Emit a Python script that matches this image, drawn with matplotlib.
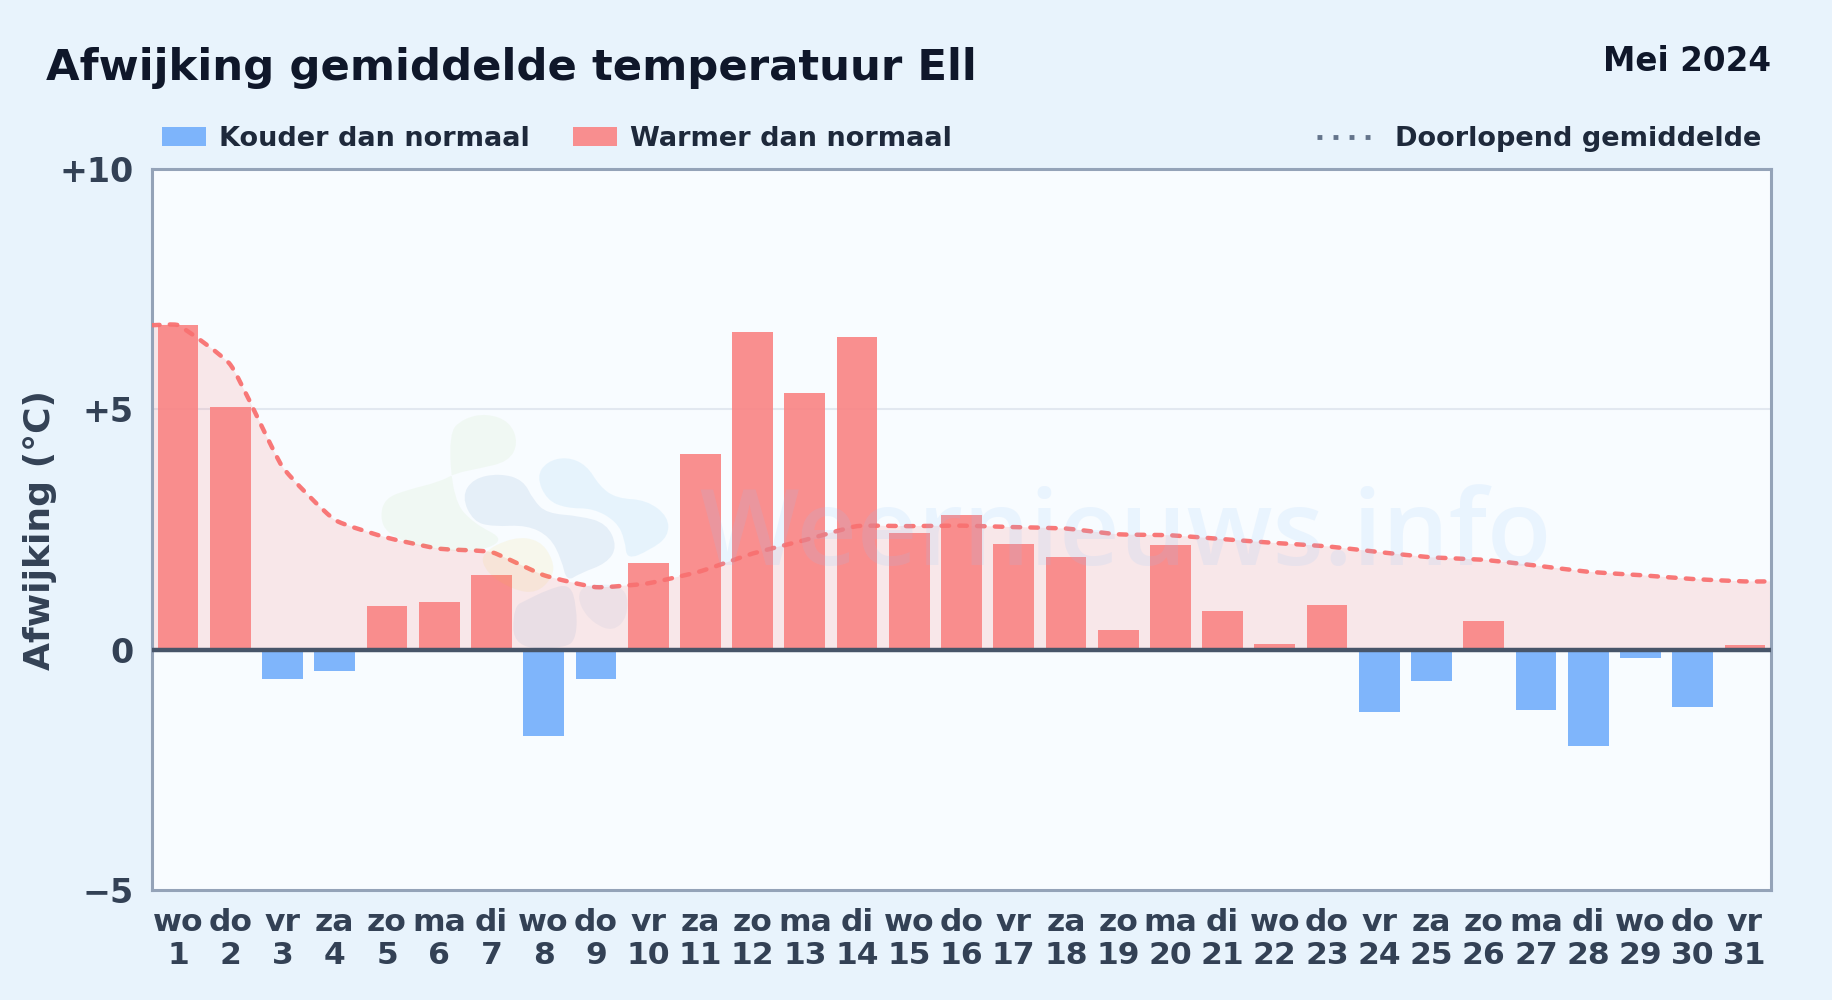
"""Afwijking gemiddelde temperatuur Ell, mei 2024."""
import matplotlib
matplotlib.use("Agg")
import matplotlib.pyplot as plt
import numpy as np
from matplotlib.lines import Line2D
from matplotlib.patches import PathPatch, Rectangle
from matplotlib.path import Path

WEEKDAYS = ["wo", "do", "vr", "za", "zo", "ma", "di"] * 4 + ["wo", "do", "vr"]
DAYS = list(range(1, 32))
ANOMALY = [6.75, 5.05, -0.6, -0.45, 0.9, 1.0, 1.55, -1.8, -0.6, 1.8, 4.08,
           6.6, 5.35, 6.5, 2.43, 2.8, 2.2, 1.92, 0.4, 2.18, 0.8, 0.12, 0.92,
           -1.3, -0.65, 0.6, -1.25, -2.0, -0.17, -1.2, 0.1]
RUNNING_MEAN = [6.75, 5.93, 3.8, 2.7, 2.33, 2.1, 2.03, 1.55, 1.3, 1.38, 1.63,
                2.0, 2.28, 2.57, 2.57, 2.58, 2.55, 2.52, 2.4, 2.38, 2.3, 2.22,
                2.15, 2.03, 1.92, 1.87, 1.75, 1.62, 1.55, 1.47, 1.42]
YTICKS = [-5, 0, 5, 10]
YTICK_LABELS = ["\u22125", "0", "+5", "+10"]

WARM = "#fa8383"
COLD = "#72aefb"
LINE = "#f87171"
INK = "#0f172a"
SLATE = "#334155"
W, H = 1832, 1000
X0, X1, Y0, Y1 = 152, 1771, 169, 890

# watermark logo outlines, in pixels of the 3x crop of the logo area
LOGO_BLOBS = [
    ("#7fc241", 0.06, [(325, 130), (370, 85), (440, 70), (510, 95), (535, 160), (505, 215),
                       (420, 235), (345, 250), (300, 275), (200, 300), (135, 325), (120, 380),
                       (140, 430), (230, 470), (400, 490), (500, 450), (400, 400), (340, 330)]),
    ("#f5c518", 0.08, [(420, 490), (520, 440), (600, 450), (640, 510), (640, 560),
                       (590, 610), (520, 600), (440, 550)]),
    ("#2f6db5", 0.09, [(365, 320), (400, 265), (480, 250), (550, 270), (580, 330), (620, 370),
                       (720, 378), (800, 400), (832, 470), (800, 520), (720, 550), (680, 575),
                       (665, 510), (630, 440), (560, 405), (460, 410), (400, 395)]),
    ("#38a3e8", 0.09, [(590, 260), (620, 215), (680, 200), (740, 225), (780, 290), (830, 325),
                       (920, 330), (985, 380), (985, 440), (930, 480), (860, 510), (855, 450),
                       (830, 395), (760, 355), (680, 355), (620, 330)]),
    ("#2f6db5", 0.07, [(520, 650), (560, 630), (620, 600), (690, 580), (710, 650), (710, 740),
                       (680, 775), (520, 775)]),
    ("#2f6db5", 0.05, [(715, 600), (760, 580), (860, 590), (864, 680), (820, 725),
                       (760, 700), (720, 650)]),
]


def tension_path(xs, ys, scale_x, scale_y, tension=0.15):
    """Bezier segments with handles along prev-next, distances measured in pixels."""
    px = np.asarray(xs, float) * scale_x
    py = np.asarray(ys, float) * scale_y
    n = len(px)
    before = np.zeros((n, 2))
    after = np.zeros((n, 2))
    for i in range(n):
        a, c = max(i - 1, 0), min(i + 1, n - 1)
        d01 = np.hypot(px[i] - px[a], py[i] - py[a])
        d12 = np.hypot(px[c] - px[i], py[c] - py[i])
        total = max(d01 + d12, 1e-9)
        step = np.array([px[c] - px[a], py[c] - py[a]])
        before[i] = np.array([px[i], py[i]]) - tension * d01 / total * step
        after[i] = np.array([px[i], py[i]]) + tension * d12 / total * step
    verts = [(xs[0], ys[0])]
    codes = [Path.MOVETO]
    for i in range(n - 1):
        verts += [(after[i][0] / scale_x, after[i][1] / scale_y),
                  (before[i + 1][0] / scale_x, before[i + 1][1] / scale_y),
                  (xs[i + 1], ys[i + 1])]
        codes += [Path.CURVE4] * 3
    return verts, codes


def blob_path(points):
    """Closed smooth outline: quadratic arcs through the edge midpoints."""
    pts = np.array(points, float)
    pts = np.column_stack((340 + pts[:, 0] / 3, 390 + pts[:, 1] / 3))
    mids = (pts + np.roll(pts, -1, axis=0)) / 2
    verts = [mids[-1]]
    codes = [Path.MOVETO]
    for p, m in zip(pts, mids):
        verts += [p, m]
        codes += [Path.CURVE3, Path.CURVE3]
    return Path(verts, codes)


fig = plt.figure(figsize=(W / 100, H / 100), dpi=100)
fig.patch.set_facecolor("#e8f3fc")
ax = fig.add_axes([X0 / W, 1 - Y1 / H, (X1 - X0) / W, (Y1 - Y0) / H], zorder=1)
ax.set_facecolor("#f8fcff")

colors = [WARM if v >= 0 else COLD for v in ANOMALY]
ax.bar(DAYS, ANOMALY, width=0.78, color=colors, alpha=0.9, zorder=3)

ax.set_xlim(0.5, 31.5)
ax.set_ylim(-5, 10)

x_line = [DAYS[0] - 0.5] + DAYS + [DAYS[-1] + 0.5]
y_line = [RUNNING_MEAN[0]] + RUNNING_MEAN + [RUNNING_MEAN[-1]]
verts, codes = tension_path(x_line, y_line, (X1 - X0) / 31, (Y1 - Y0) / 15)
fill_verts = verts + [(x_line[-1], 0), (x_line[0], 0), verts[0]]
fill_codes = codes + [Path.LINETO, Path.LINETO, Path.CLOSEPOLY]
ax.add_patch(PathPatch(Path(fill_verts, fill_codes), fc=LINE, ec="none", alpha=0.15, zorder=2))
ax.add_patch(PathPatch(Path(verts, codes), fc="none", ec=LINE, lw=3.2, ls=(0, (1.7, 2.3)),
                       capstyle="round", alpha=0.95, zorder=4))

ax.axhline(0, color="#475569", lw=3.2, zorder=5)
ax.axhline(5, color="#e2e8f0", lw=1.5, zorder=1)

ax.set_yticks(YTICKS, YTICK_LABELS)
ax.set_xticks(DAYS, [f"{w}\n{d}" for w, d in zip(WEEKDAYS, DAYS)])
ax.tick_params(length=0)
ax.tick_params(axis="x", labelsize=22.6, labelcolor=SLATE, pad=12.7)
ax.tick_params(axis="y", labelsize=24, labelcolor=SLATE, pad=13)
for lab in ax.get_xticklabels() + ax.get_yticklabels():
    lab.set_fontweight("bold")
    lab.set_linespacing(1.2)
for s in ax.spines.values():
    s.set_color("#94a3b8")
    s.set_linewidth(2.2)

# watermark lies over the bars, so it gets its own transparent axes on top
mark = fig.add_axes([0, 0, 1, 1], zorder=2)
mark.axis("off")
mark.set_xlim(0, W)
mark.set_ylim(H, 0)
for col, alpha, pts in LOGO_BLOBS:
    mark.add_patch(PathPatch(blob_path(pts), fc=col, ec="none", alpha=alpha))
mark.text(1126, 565, "Weernieuws.info", ha="center", va="baseline", fontsize=75.8,
          family="Open Sans", fontweight="semibold", color="#93c5fd", alpha=0.14)

fig.text(46 / W, 1 - 80 / H, "Afwijking gemiddelde temperatuur Ell", fontsize=31.2,
         fontweight="bold", color=INK)
fig.text(1771 / W, 1 - 71 / H, "Mei 2024", fontsize=23.5, fontweight="bold", color=INK, ha="right")
fig.text(40.5 / W, 1 - 530 / H, "Afwijking (\u00b0C)", fontsize=26, fontweight="bold", color=SLATE,
         rotation=90, ha="center", va="center")

# legend drawn by hand, the entries sit apart
for x0, col, label in [(162, COLD, "Kouder dan normaal"), (573, WARM, "Warmer dan normaal")]:
    fig.add_artist(Rectangle((x0 / W, 1 - 146 / H), 44 / W, 19 / H, transform=fig.transFigure,
                             fc=col, alpha=0.9, ec="none"))
    fig.text((x0 + 57) / W, 1 - 139 / H, label, fontsize=19.5, fontweight="bold", color="#1e293b",
             va="center")
fig.add_artist(Line2D([1317 / W, 1375 / W], [1 - 137 / H] * 2, transform=fig.transFigure,
                      color="#64748b", lw=3.5, ls=(0, (1, 2.3))))
fig.text(1761 / W, 1 - 139 / H, "Doorlopend gemiddelde", fontsize=19.5, fontweight="bold",
         color="#1e293b", va="center", ha="right")

fig.savefig("out.png", dpi=100, facecolor=fig.get_facecolor())
